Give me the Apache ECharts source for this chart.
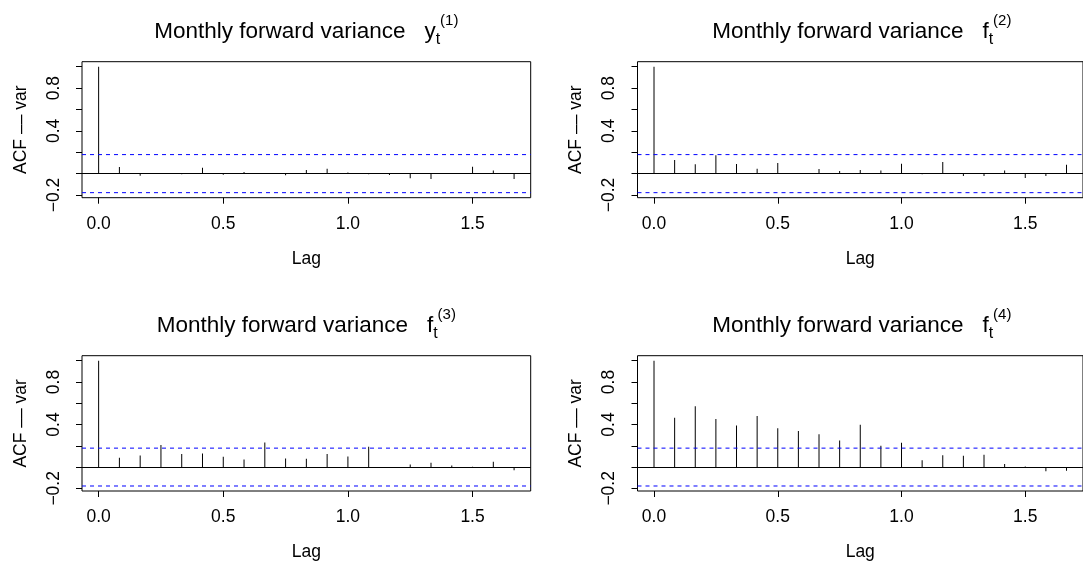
<!DOCTYPE html>
<html><head><meta charset="utf-8">
<script src="https://cdn.jsdelivr.net/npm/echarts@6/dist/echarts.min.js"></script>
<style>html,body{margin:0;padding:0;background:#fff}#c{width:1083px;height:562px}</style>
</head><body><div id="c"></div>
<script>
// ---- data ----
const lagMonths = [0,1,2,3,4,5,6,7,8,9,10,11,12,13,14,15,16,17,18,19,20];
const acfY1 = [1, 0.062, -0.02, 0.003, -0.006, 0.056, -0.01, 0.015, 0.003, -0.015, 0.035, 0.045, 0.01, -0.005, -0.012, -0.042, -0.05, -0.003, 0.065, 0.03, -0.05];
const acfF2 = [1, 0.128, 0.088, 0.172, 0.09, 0.045, 0.1, 0.003, 0.044, 0.025, 0.034, 0.03, 0.093, -0.005, 0.11, -0.022, -0.022, 0.03, -0.04, -0.022, 0.082];
const acfF3 = [1, 0.088, 0.108, 0.207, 0.123, 0.127, 0.098, 0.07, 0.232, 0.08, 0.077, 0.123, 0.1, 0.192, -0.008, 0.023, 0.04, 0.014, 0.002, 0.05, -0.03];
const acfF4 = [1, 0.463, 0.572, 0.453, 0.39, 0.481, 0.366, 0.34, 0.309, 0.25, 0.397, 0.2, 0.228, 0.063, 0.112, 0.106, 0.116, 0.028, 0.006, -0.04, -0.034];
const ciBound = 0.178;
const panelVar = ['y', 'f', 'f', 'f'];
const panelSup = ['(1)', '(2)', '(3)', '(4)'];
const xTicks = [0, 0.5, 1.0, 1.5];
const yTicks = [-0.2, 0, 0.2, 0.4, 0.6, 0.8, 1.0];
const yLabelVals = [-0.2, 0.4, 0.8];
const xRange = [-0.0667, 1.7333];
const yRange = [-0.2251, 1.0471];

// ---- layout ----
const FONT = "'Liberation Sans', Arial, Helvetica, sans-serif";
const series = [acfY1, acfF2, acfF3, acfF4];
const pos = [[82, 61.7], [637.5, 61.7], [82, 355.7], [637.5, 355.7]];
const gw = 448.7, gh = 136;

const fmt = v => (v < 0 ? '\u2212' : '') + Math.abs(v).toFixed(1);
const txt = {color: '#000', fontSize: 17.5, fontFamily: FONT, fontWeight: 'normal'};
const ciStyle = {color: '#0000FF', type: [4, 4], width: 1};

const grids = [], xAxes = [], yAxes = [], sers = [], titles = [];
series.forEach((vals, i) => {
  const [l, t] = pos[i];
  grids.push({left: l, top: t, width: gw, height: gh, show: true, borderColor: '#000', borderWidth: 1, backgroundColor: 'transparent', containLabel: false});
  xAxes.push({
    gridIndex: i, type: 'value', min: xRange[0], max: xRange[1],
    axisLine: {show: false, onZero: false},
    splitLine: {show: false},
    axisTick: {show: true, inside: false, length: 6, customValues: xTicks, lineStyle: {color: '#000', width: 1}},
    axisLabel: Object.assign({show: true, customValues: xTicks, formatter: fmt, margin: 17}, txt),
    name: 'Lag', nameLocation: 'middle', nameGap: 52,
    nameTextStyle: txt
  });
  yAxes.push({
    gridIndex: i, type: 'value', min: yRange[0], max: yRange[1],
    axisLine: {show: false, onZero: false},
    splitLine: {show: false},
    axisTick: {show: true, inside: false, length: 6, customValues: yTicks, lineStyle: {color: '#000', width: 1}},
    axisLabel: Object.assign({show: true, customValues: yLabelVals, formatter: fmt, rotate: 90, margin: 19}, txt),
    name: 'ACF \u2013\u2013 var', nameLocation: 'middle', nameGap: 52, nameRotate: 90,
    nameTextStyle: txt
  });
  sers.push({
    type: 'bar', xAxisIndex: i, yAxisIndex: i, barWidth: 1,
    itemStyle: {color: '#000'},
    data: vals.map((v, k) => [lagMonths[k] / 12, v]),
    markLine: {
      silent: true, symbol: 'none', animation: false, label: {show: false},
      lineStyle: {color: '#000', type: 'solid', width: 1},
      data: [{yAxis: 0}]
    }
  });
  [ciBound, -ciBound].forEach(b => {
    sers.push({
      type: 'line', xAxisIndex: i, yAxisIndex: i, symbol: 'none', silent: true,
      lineStyle: ciStyle, itemStyle: {color: '#0000FF'},
      data: [[xRange[0], b], [xRange[1], b]]
    });
  });
  titles.push({
    left: l + gw / 2, top: t - 49, textAlign: 'center', padding: 0,
    text: '{m|Monthly forward variance   }{v|' + panelVar[i] + '}{s|t}{p|' + panelSup[i] + '}',
    textStyle: {
      fontFamily: FONT, color: '#000', fontWeight: 'normal',
      rich: {
        m: {fontSize: 22.5, verticalAlign: 'top', padding: [8, 0, 0, 0], fontFamily: FONT, fontWeight: 'normal', color: '#000'},
        v: {fontSize: 22.5, verticalAlign: 'top', padding: [8, 0, 0, 0], fontFamily: FONT, fontWeight: 'normal', color: '#000'},
        s: {fontSize: 16, verticalAlign: 'top', padding: [19, 0, 0, 0], fontFamily: FONT, fontWeight: 'normal', color: '#000'},
        p: {fontSize: 15, verticalAlign: 'top', padding: [0.7, 0, 0, 0], fontFamily: FONT, fontWeight: 'normal', color: '#000'}
      }
    }
  });
});

const chart = echarts.init(document.getElementById('c'));
chart.setOption({
  animation: false,
  backgroundColor: '#fff',
  title: titles,
  grid: grids,
  xAxis: xAxes,
  yAxis: yAxes,
  series: sers
});
</script>
</body></html>
